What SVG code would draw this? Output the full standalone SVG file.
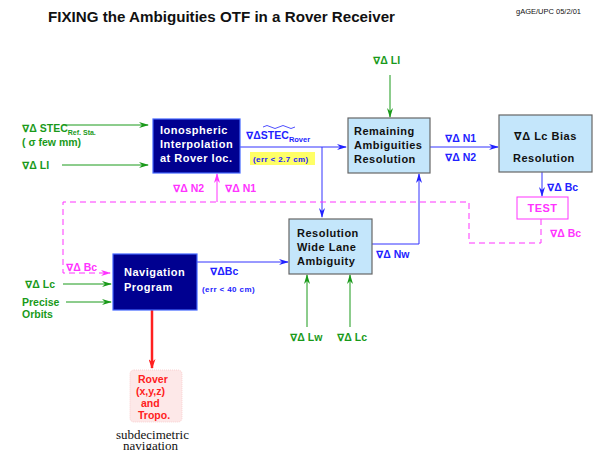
<svg xmlns="http://www.w3.org/2000/svg" width="598" height="450" viewBox="0 0 598 450">
<defs>
<style>
text{font-family:"Liberation Sans",Arial,"DejaVu Sans",sans-serif;font-weight:bold}
.g{fill:#1a9a1a}.b{fill:#2222ff}.m{fill:#ff33ff}.k{fill:#111}.w{fill:#fff}.r{fill:#ff2020}
.lab{font-size:10.5px}
.bx{font-size:11px;letter-spacing:0.5px}
.sm{font-size:8px;letter-spacing:0.4px}
.dark{fill:#000090;stroke:#4466ff;stroke-width:1.2}
.light{fill:#c4e6fb;stroke:#666;stroke-width:1.2}
.lg{stroke:#1a9a1a;stroke-width:1;fill:none}
.lb{stroke:#3333ff;stroke-width:1;fill:none}
.lm{stroke:#ff33ff;stroke-width:1;fill:none}
.dm{stroke:#ff33ff;stroke-width:1;fill:none;stroke-dasharray:6,4}
.serif{font-family:"Liberation Serif","Times New Roman",serif;font-weight:normal;font-size:13px}
</style>
<marker id="ag" markerWidth="10" markerHeight="6" refX="9" refY="3" orient="auto" markerUnits="userSpaceOnUse"><path d="M0,0 L10,3 L0,6 L3,3 z" fill="#1a9a1a"/></marker>
<marker id="ab" markerWidth="10" markerHeight="6" refX="9" refY="3" orient="auto" markerUnits="userSpaceOnUse"><path d="M0,0 L10,3 L0,6 L3,3 z" fill="#2222ff"/></marker>
<marker id="am" markerWidth="10" markerHeight="6" refX="9" refY="3" orient="auto" markerUnits="userSpaceOnUse"><path d="M0,0 L10,3 L0,6 L3,3 z" fill="#ff33ff"/></marker>
<marker id="ar" markerWidth="10" markerHeight="7" refX="9" refY="3.5" orient="auto" markerUnits="userSpaceOnUse"><path d="M0,0 L10,3.5 L0,7 L3,3.5 z" fill="#ff2020"/></marker>
</defs>
<rect width="598" height="450" fill="#fff"/>
<text x="48" y="22" font-size="15.5" textLength="347" lengthAdjust="spacingAndGlyphs" class="k">FIXING the Ambiguities OTF in a Rover Receiver</text>
<text x="516" y="14" font-size="7.5" style="font-weight:normal" class="k">gAGE/UPC  05/2/01</text>

<g id="connectors">
<line x1="63" y1="125" x2="148" y2="125" class="lg" marker-end="url(#ag)"/>
<line x1="62" y1="165" x2="148" y2="165" class="lg" marker-end="url(#ag)"/>
<line x1="240" y1="147" x2="346" y2="147" class="lb" marker-end="url(#ab)"/>
<line x1="322" y1="147" x2="322" y2="217" class="lb" marker-end="url(#ab)"/>
<line x1="390" y1="75" x2="390" y2="117" class="lg" marker-end="url(#ag)"/>
<line x1="430" y1="147" x2="498" y2="147" class="lb" marker-end="url(#ab)"/>
<line x1="542" y1="172" x2="542" y2="196" class="lb" marker-end="url(#ab)"/>
<line x1="217" y1="202" x2="217" y2="174" class="lm" marker-end="url(#am)"/>
<path d="M541,219 V243 H469 V202 H63 V273 H110" class="dm" marker-end="url(#am)"/>
<line x1="197" y1="262" x2="288" y2="262" class="lb" marker-end="url(#ab)"/>
<line x1="63" y1="284" x2="111" y2="284" class="lg" marker-end="url(#ag)"/>
<line x1="66" y1="302" x2="111" y2="302" class="lg" marker-end="url(#ag)"/>
<path d="M372,244 H419 V174" class="lb" marker-end="url(#ab)"/>
<line x1="307" y1="327" x2="307" y2="275" class="lg" marker-end="url(#ag)"/>
<line x1="350" y1="327" x2="350" y2="275" class="lg" marker-end="url(#ag)"/>
<line x1="152" y1="310" x2="152" y2="368" stroke="#ff2020" stroke-width="2.5" marker-end="url(#ar)"/>
</g>

<g id="inputs-left">
<text x="22" y="132" class="g lab">∇Δ STEC<tspan font-size="7" dy="3">Ref. Sta.</tspan></text>
<text x="22" y="146" class="g lab">( σ few mm)</text>
<text x="22" y="169" class="g lab">∇Δ LI</text>
<text x="25" y="288" class="g lab">∇Δ Lc</text>
<text x="22" y="306" class="g lab">Precise</text>
<text x="22" y="318" class="g lab">Orbits</text>
</g>

<g id="iono">
<rect x="153" y="119" width="87" height="54" class="dark"/>
<text x="160" y="134" class="w bx">Ionospheric</text>
<text x="160" y="148" class="w bx">Interpolation</text>
<text x="160" y="162" class="w bx">at Rover loc.</text>
</g>

<g id="stec-rover">
<path d="M263,127 q4,-3 8,0 t8,0 t8,0 t8,0" fill="none" stroke="#2222ff" stroke-width="0.8"/>
<text x="246" y="139" class="b lab">∇ΔSTEC<tspan font-size="7.5" dy="3">Rover</tspan></text>
<rect x="250" y="152" width="65" height="13" fill="#ffff66"/>
<text x="253" y="162" class="b sm">(err &lt; 2.7 cm)</text>
</g>

<g id="li-top"><text x="373" y="64" class="g lab">∇Δ LI</text></g>

<g id="remaining">
<rect x="348" y="118" width="82" height="55" class="light"/>
<text x="354" y="135" class="k bx">Remaining</text>
<text x="354" y="149" class="k bx">Ambiguities</text>
<text x="354" y="163" class="k bx">Resolution</text>
</g>

<g id="n1n2">
<text x="445" y="142" class="b lab">∇Δ N1</text>
<text x="445" y="161" class="b lab">∇Δ N2</text>
</g>

<g id="lcbias">
<rect x="499" y="115" width="93" height="57" class="light"/>
<text x="514" y="140" class="k bx">∇Δ Lc Bias</text>
<text x="513" y="162" class="k bx">Resolution</text>
</g>

<g id="bc-labels">
<text x="547" y="191" class="b lab">∇Δ Bc</text>
<text x="550" y="237" class="m lab">∇Δ Bc</text>
<text x="66" y="271" class="m lab">∇Δ Bc</text>
<text x="173" y="192" class="m lab">∇Δ N2</text>
<text x="225" y="192" class="m lab">∇Δ N1</text>
</g>

<g id="test">
<rect x="517" y="197" width="51" height="22" fill="#fff" stroke="#ff33ff" stroke-width="1"/>
<text x="542.5" y="212" text-anchor="middle" class="m bx">TEST</text>
</g>

<g id="navigation">
<rect x="113" y="254" width="84" height="56" class="dark"/>
<text x="124" y="276" class="w bx">Navigation</text>
<text x="124" y="291" class="w bx">Program</text>
</g>

<g id="nav-out">
<text x="210" y="275" class="b lab">∇ΔBc</text>
<text x="202" y="292" class="b sm">(err &lt; 40 cm)</text>
</g>

<g id="widelane">
<rect x="289" y="219" width="83" height="55" class="light"/>
<text x="297" y="237" class="k bx">Resolution</text>
<text x="297" y="251" class="k bx">Wide Lane</text>
<text x="297" y="265" class="k bx">Ambiguity</text>
</g>

<g id="wl-labels">
<text x="376" y="258" class="b lab">∇Δ Nw</text>
<text x="290" y="341" class="g lab">∇Δ Lw</text>
<text x="337" y="341" class="g lab">∇Δ Lc</text>
</g>

<g id="rover">
<rect x="130" y="370" width="52" height="52" rx="4" fill="#fde8e8" stroke="#f8c8c8" stroke-width="0.8" stroke-dasharray="1,1"/>
<text x="138" y="383" class="r" font-size="10.5">Rover</text>
<text x="136" y="395" class="r" font-size="10.5">(x,y,z)</text>
<text x="141" y="407" class="r" font-size="10.5">and</text>
<text x="138" y="419" class="r" font-size="10.5">Tropo.</text>
</g>
<text x="116" y="439" class="k serif">subdecimetric</text>
<text x="123" y="450" class="k serif">navigation</text>
</svg>
